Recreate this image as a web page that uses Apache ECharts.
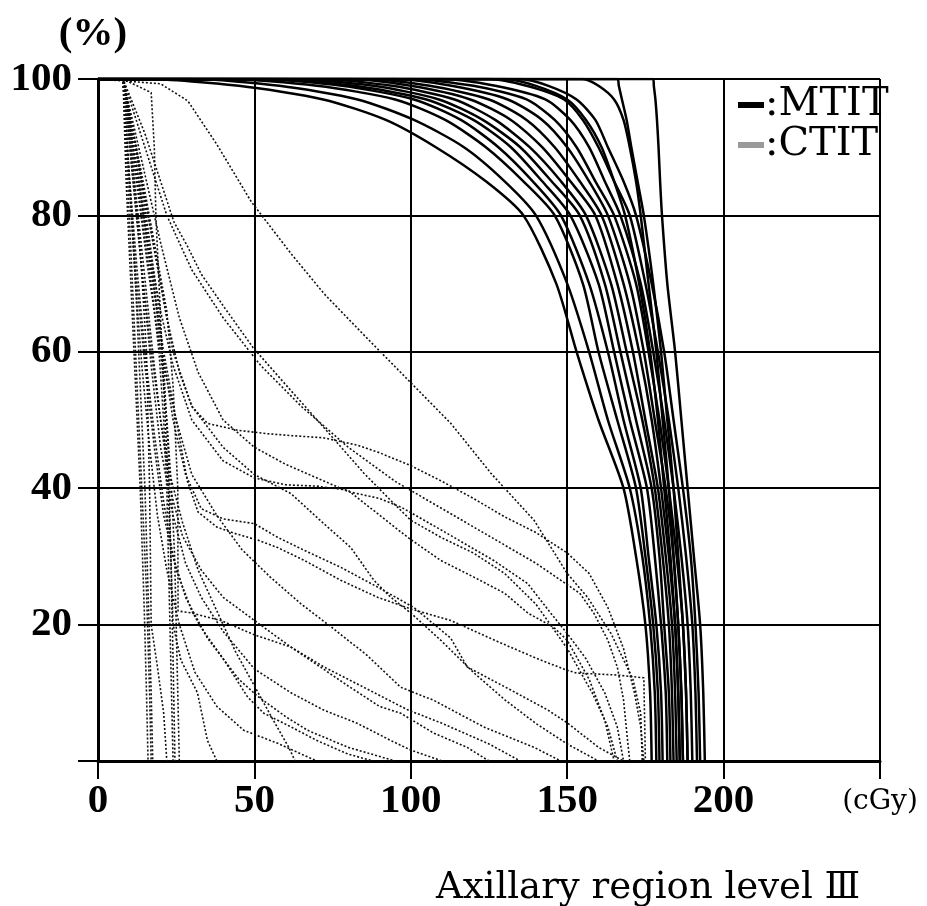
<!DOCTYPE html>
<html>
<head>
<meta charset="utf-8">
<title>Axillary region level III</title>
<script src="https://cdn.jsdelivr.net/npm/echarts@6/dist/echarts.min.js"></script>
<style>
    html, body { margin: 0; padding: 0; background: #fff; }
    #main { width: 927px; height: 906px; }
</style>
</head>
<body>
<div id="main"></div>
<script>
// volume levels (%) used by every MTIT curve, read top to bottom
var volLevels = [100, 100, 99, 97, 94, 90, 85, 80, 70, 60, 50, 40, 30, 20, 10, 0];

// MTIT: dose (cGy) at which each curve reaches the levels above
var mtitDoses = [
    [0, 15, 45, 72, 92, 108, 124, 136, 146.5, 153, 160, 168, 172, 175, 176.5, 177],
    [0, 30, 58, 83, 101, 117, 130, 140, 150, 157, 163, 170, 174, 176.5, 178, 178.5],
    [0, 40, 70, 95, 111, 124, 136, 146, 155, 160, 166, 172, 175, 177.5, 179, 179.5],
    [0, 50, 78, 101, 116, 128, 139, 148, 157, 163, 168, 173.5, 176, 178.5, 180, 180.5],
    [0, 55, 82, 105, 120, 132, 142, 151, 160, 165, 170, 175.5, 178, 180, 181.5, 182],
    [0, 60, 88, 109, 123, 135, 145, 154, 162, 167, 172, 177, 179.5, 181, 182.5, 183],
    [0, 70, 94, 114, 127, 138, 148, 156, 164, 169, 174, 178, 180.5, 182.5, 183.5, 184],
    [0, 80, 100, 119, 132, 142, 151, 159, 166, 171, 175, 179, 181.5, 183.5, 184.5, 185],
    [0, 85, 106, 125, 137, 146, 154, 161, 168, 173, 177, 180, 182.5, 184.5, 185.5, 186],
    [0, 95, 113, 131, 142, 150, 157, 163, 170, 174.5, 178, 181.5, 184, 185.5, 186.5, 187],
    [0, 100, 120, 137, 146, 153, 159, 165, 172, 176, 179.5, 182.5, 185, 187, 188, 188.5],
    [0, 110, 127, 143, 151, 157, 162, 167, 173.5, 177.5, 181, 184, 186.5, 188.5, 189.5, 190],
    [0, 125, 137, 149, 155, 160, 165, 170, 175, 179, 182.5, 185.5, 188, 190, 191, 191.5],
    [0, 135, 144, 153, 159, 163, 168, 172, 177, 181, 184, 187, 189.5, 191, 192, 192.5],
    [0, 130, 140, 150, 156, 161, 165, 168.5, 173, 176.5, 179, 181, 183, 184.5, 185.5, 186],
    [0, 155, 160, 165, 168, 170, 172, 173.5, 176, 178.5, 180.5, 182.5, 184, 185.5, 186.5, 187],
    [0, 166, 166.5, 167.5, 169, 170.5, 172.5, 174.5, 177.5, 180, 182, 184, 185.5, 187, 188, 188.5],
    [0, 177.5, 177.7, 178.2, 178.7, 179.2, 179.7, 180.3, 182, 184.5, 186.5, 188.5, 190.5, 192.5, 193.5, 194]
];

// CTIT: [dose, volume] points of each dotted curve
var ctitCurves = [
    [[0,100],[8,100],[9,85],[10.5,70],[12,55],[13.5,40],[14.8,22],[15.5,10],[16,0]],
    [[0,100],[8,100],[10,85],[12,70],[13.5,55],[15,40],[16,25],[17,10],[17.5,0]],
    [[0,100],[8,100],[9.5,85],[11,70],[12.5,55],[14,40],[15.5,25],[16.5,10],[17,0]],
    [[0,100],[8,100],[11,88],[13.5,75],[15.5,60],[16.5,40],[17,20],[19,13.8],[21,7],[22,0]],
    [[0,100],[8,100],[17,98],[18,90],[18.5,80],[20.5,60],[22,45],[23.3,30],[24,15],[24.6,0]],
    [[0,100],[8,100],[12,90],[15,80],[18,70],[20,60],[22,50],[23.5,40],[24.5,30],[25,20],[25.5,10],[26,0]],
    [[0,100],[8,100],[11,90],[14,80],[17,70],[19.5,60],[21,50],[22,40],[22.5,30],[23,20],[23.5,10],[24,0]],
    [[0,100],[8,100],[13,88],[16,78],[19,68],[21,58],[22.5,45],[23.3,30],[24,20],[26.5,14.8],[31.8,10],[35,3],[38,0]],
    [[0,100],[8,100],[14,86],[18,76],[22,66],[24,55],[25.5,40],[25.6,22],[30,21.7],[39.3,20.6],[50,18.5],[61.7,16.7],[72.2,13.8],[85,10.8],[99,7.5],[109.6,5.6],[125,2.5],[135,0]],
    [[0,100],[20,99.3],[28.7,96.8],[38,90.4],[49,82],[61.7,74.4],[72.3,68.5],[86,62],[101,55],[112.8,49.5],[125.6,42.2],[139.4,35.3],[150,27.5],[156.5,24],[164,18.7],[171,12],[173.5,7],[174,0]],
    [[0,100],[8,100],[15,92],[20,85],[24.3,79],[28.8,75.3],[33,71.4],[40.4,66.5],[49.6,60.6],[61.7,54.3],[72,49],[85,42.2],[93.6,38.2],[100,35.3],[109.6,32.8],[120,30.5],[130,27.5],[140,23],[150,16.5],[158,10],[163,5],[166,0]],
    [[0,100],[8,100],[14,85],[18,75],[22,65],[26,57],[30,52],[35,49.5],[44.6,48.5],[54,48],[62,47.7],[72,47.4],[83,46.3],[90,45.2],[100,43.3],[110,41],[120,38.5],[130,35.8],[140,33.5],[150,30.5],[157,27.5],[163,22.5],[168,16.5],[171.5,10],[173.5,5],[174.5,0]],
    [[0,100],[8,100],[13,85],[17,72],[21,60],[25,50],[28.6,41],[32,36.5],[38,34.3],[43.5,33.4],[51,32.4],[57.4,31.3],[66,29.4],[77.6,26.5],[89.4,24],[100,22.3],[112.8,20.6],[128.8,17.3],[141.5,14.8],[150,13.3],[153,12.9],[166,12.6],[174.5,12.2],[175,0]],
    [[0,100],[8,100],[14,88],[20,76],[26,65],[32,57],[40,50],[50,46],[60,43.5],[70,41.5],[80,39.5],[90,38.5],[97,37.2],[110,33.8],[126.5,29.4],[137.4,26],[144.7,21.7],[150,18.7],[156,15],[162,10],[166,5],[168,0]],
    [[0,100],[8,100],[15,90],[22,80],[30,72],[40,65],[52,58],[65,52],[80,46],[95,41],[110,37],[125,33],[140,29],[154,24.6],[158.5,21.7],[163,17.7],[166,13.8],[168,9],[169.3,3],[170,0]],
    [[0,100],[8,100],[12,90],[16,80],[20,70],[24,60],[30,52],[40,46],[50,42],[61.7,39.2],[72.2,34.8],[80.8,31.3],[88.2,26.5],[93.6,24],[100,21.7],[109.6,17.7],[120,13],[130,9],[140,5.5],[150,2.5],[160,0]],
    [[0,100],[8,100],[12,88],[16,76],[20,66],[24,58],[30,50],[40,44],[50,41.5],[60,40.5],[70,40.3],[79.9,39.7],[88.2,36.7],[99,32.8],[109.6,29.4],[120,27],[130,24.6],[137.4,21.7],[145.7,19.6],[150,17.7],[157,12],[162,6],[165,0]],
    [[0,100],[8,100],[12,88],[16,75],[20,62],[24,50],[28,42],[33,37],[40,35.5],[50,34.8],[57.4,32.8],[65.9,30.9],[77.6,28.4],[89.4,25.5],[101,22.5],[112.8,18],[118,13.8],[132,10.4],[143.7,7.5],[150,5.6],[160,2],[168,0]],
    [[0,100],[8,100],[11,88],[14,75],[17,62],[20,50],[23,40],[27,33],[33,28],[40,24],[53,19.6],[61.7,16.7],[72,13.5],[80,11],[90,8],[96.8,7],[107.3,4.1],[118,2],[125,0]],
    [[0,100],[8,100],[11,86],[14,72],[17,58],[20,46],[24,36],[28,29],[33,24],[40,19],[50,13.5],[61.7,10],[72,7.5],[83,5.5],[93.6,3],[100,1.6],[110,0]],
    [[0,100],[8,100],[10,86],[12,72],[15,58],[18,46],[21,36],[25,28],[30,22],[32.9,19.6],[40.3,14.8],[47.8,9.4],[53,7],[61.7,5],[70,3],[80,1],[88,0]],
    [[0,100],[8,100],[10,86],[12.5,72],[15,60],[18,48],[21,38],[24,30],[28,24],[35,18],[45,12],[51,9.5],[60,6.5],[67,4.5],[80,2],[95,0]],
    [[0,100],[8,100],[10,85],[12,70],[14,58],[16.5,46],[19,36],[22,28],[26,20],[31,13],[38,8],[46.6,4.5],[57.4,2.6],[67,0.6],[70,0]],
    [[0,100],[8,100],[12,86],[16,72],[20,60],[25,50],[30,42],[38,36],[46,31],[55,27],[65,23],[75,19.5],[86,15.5],[96.8,10.8],[107.3,8.9],[123.3,5],[139.4,2],[148,0]],
    [[0,100],[8,100],[11,86],[14,72],[17,60],[20,50],[23,42],[27,35],[32,28],[38,22],[44,16],[50,11],[56,6],[61,2],[63,0]]
];

var doseUnit = '(cGy)';
var volUnit = '(%)';
var chartTitle = 'Axillary region level Ⅲ';

var numFont = '"Liberation Serif", "DejaVu Serif", serif';
var textFont = '"DejaVu Serif", serif';
var ink = '#000';

var myChart = echarts.init(document.getElementById('main'));

var series = [];

// 虚线组 (CTIT) 先画, 放在下面
ctitCurves.forEach(function (pts) {
    series.push({
        name: 'CTIT',
        type: 'line',
        data: pts,
        symbol: 'none',
        silent: true,
        z: 2,
        lineStyle: { color: '#111', width: 1.6, type: [2, 2] }
    });
});

// 实线组 (MTIT)
mtitDoses.forEach(function (doses) {
    var pts = [];
    for (var i = 0; i < doses.length; i++) {
        pts.push([doses[i], volLevels[i]]);
    }
    series.push({
        name: 'MTIT',
        type: 'line',
        data: pts,
        symbol: 'none',
        silent: true,
        smooth: 0.25,
        z: 3,
        lineStyle: { color: ink, width: 2.5 }
    });
});

var option = {
    animation: false,
    backgroundColor: '#fff',
    title: {
        text: chartTitle,
        left: 431,
        top: 865,
        textStyle: { fontFamily: textFont, fontSize: 37, fontWeight: 'normal', color: ink }
    },
    legend: {
        orient: 'vertical',
        left: 733,
        top: 80,
        itemWidth: 26,
        itemHeight: 6,
        itemGap: 0,
        selectedMode: false,
        formatter: ':{name}',
        textStyle: { fontFamily: textFont, fontSize: 40, color: ink, padding: [0, 0, 0, -4] },
        data: [
            { name: 'MTIT', icon: 'rect', itemStyle: { color: ink } },
            { name: 'CTIT', icon: 'rect', itemStyle: { color: '#9a9a9a' } }
        ]
    },
    grid: { left: 98, right: 47, top: 79, bottom: 145 },
    xAxis: [
        {
            type: 'value',
            position: 'bottom',
            min: 0,
            max: 250,
            interval: 50,
            axisLine: { show: true, lineStyle: { color: ink, width: 3 } },
            axisTick: { show: true, length: 18, lineStyle: { color: ink, width: 2 } },
            axisLabel: {
                margin: 20,
                color: ink,
                fontFamily: numFont,
                fontWeight: 'bold',
                fontSize: 41,
                formatter: function (v) {
                    return v === 250 ? '{u|' + doseUnit + '}' : String(v);
                },
                rich: { u: { fontFamily: textFont, fontWeight: 'normal', fontSize: 28, color: ink, padding: [7, 0, 0, 0] } }
            },
            splitLine: { show: true, lineStyle: { color: ink, width: 2 } }
        },
        {
            type: 'value',
            position: 'top',
            min: 0,
            max: 250,
            interval: 50,
            axisLine: { show: false },
            axisTick: { show: true, length: 22, lineStyle: { color: ink, width: 2 } },
            axisLabel: { show: false },
            splitLine: { show: false }
        }
    ],
    yAxis: [
        {
            type: 'value',
            position: 'left',
            min: 0,
            max: 100,
            interval: 20,
            name: volUnit,
            nameLocation: 'end',
            nameGap: 24,
            nameTextStyle: { fontFamily: numFont, fontWeight: 'bold', fontSize: 41, color: ink, padding: [0, 10, 0, 0] },
            axisLine: { show: true, lineStyle: { color: ink, width: 3 } },
            axisTick: { show: true, length: 20, lineStyle: { color: ink, width: 2 } },
            axisLabel: {
                margin: 26,
                color: ink,
                fontFamily: numFont,
                fontWeight: 'bold',
                fontSize: 41,
                formatter: function (v) { return v === 0 ? '' : String(v); }
            },
            splitLine: { show: true, lineStyle: { color: ink, width: 2 } }
        },
        {
            type: 'value',
            position: 'right',
            min: 0,
            max: 100,
            interval: 20,
            axisLine: { show: false },
            axisTick: { show: true, length: 25, lineStyle: { color: ink, width: 2 } },
            axisLabel: { show: false },
            splitLine: { show: false }
        }
    ],
    series: series
};

myChart.setOption(option);
</script>
</body>
</html>
